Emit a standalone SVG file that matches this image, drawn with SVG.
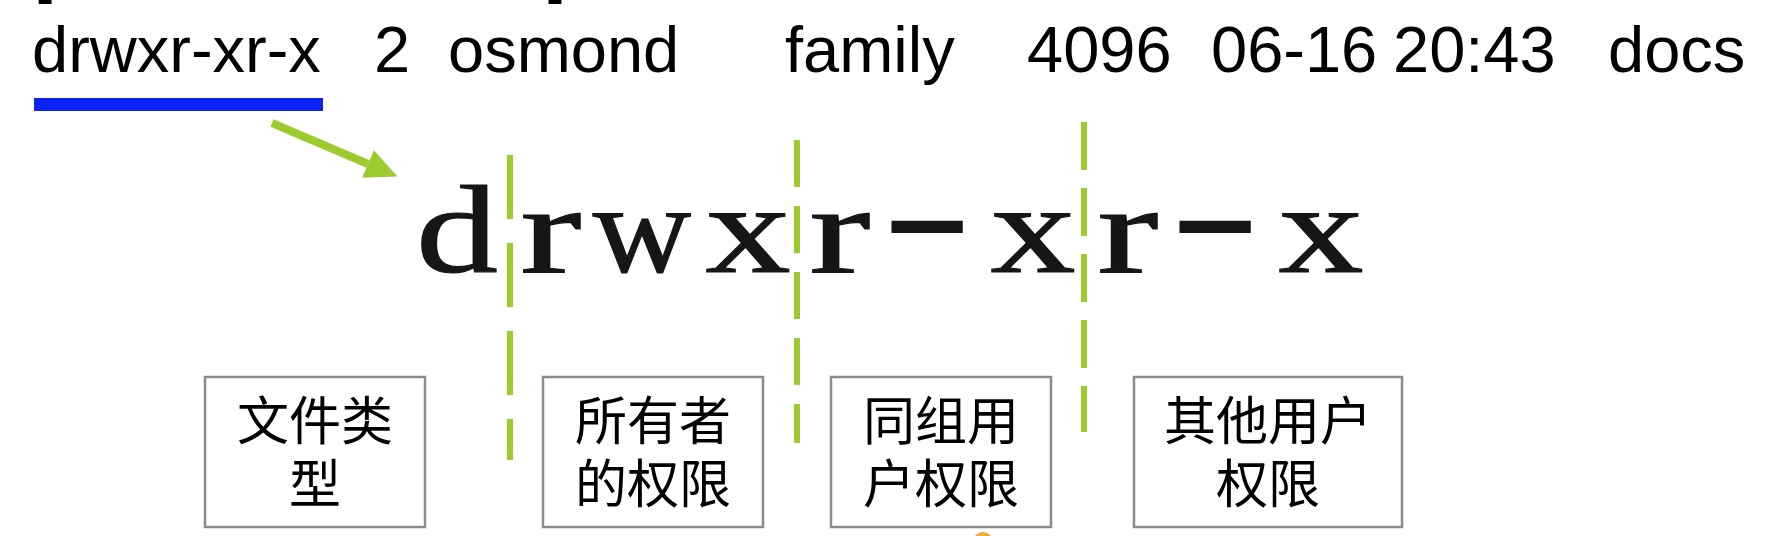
<svg xmlns="http://www.w3.org/2000/svg" width="1786" height="536" viewBox="0 0 1786 536">
<style>
.top{font-family:"Liberation Sans",Arial,sans-serif;font-size:65px;fill:#000}
.big{font-family:"Liberation Serif","Times New Roman",serif;font-size:126px;fill:#161616;stroke:#161616;stroke-width:1.2;text-anchor:middle}
.box{fill:#fff;stroke:#8a8a8a;stroke-width:2.5}
.lbl{font-family:"Liberation Sans","Noto Sans CJK SC",sans-serif;font-size:52px;fill:#000;text-anchor:middle}
.sep{stroke:#9bcb2d;stroke-width:6;fill:none}
.arr{stroke:#9bcb2d;stroke-width:8;fill:none}
</style>
<defs>
<marker id="ah" markerUnits="userSpaceOnUse" markerWidth="34" markerHeight="32" refX="0" refY="16" orient="auto" viewBox="0 0 34 32">
<path d="M0,1 L32,16 L0,31 z" fill="#9bcb2d"/>
</marker>
</defs>
<rect width="1786" height="536" fill="#fff"/>

<g id="prompt-line">
<text class="top" x="34" y="-9">[</text>
<text class="top" x="284" y="-9">@</text>
<text class="top" x="548" y="-9">]</text>
</g>

<g id="ls-line">
<text class="top" y="72"><tspan x="32">drwxr-xr-x</tspan><tspan x="374">2</tspan><tspan x="448">osmond</tspan><tspan x="785">family</tspan><tspan x="1027">4096</tspan><tspan x="1211">06-16</tspan><tspan x="1393">20:43</tspan><tspan x="1608">docs</tspan></text>
<rect x="34" y="98" width="289" height="13" fill="#0b22f2"/>
</g>

<g id="perm-string">
<text class="big" transform="translate(457,272) scale(1.3,1)">d</text>
<text class="big" transform="translate(551,272) scale(1.46,1)">r</text>
<text class="big" transform="translate(642,272) scale(1.08,1)">w</text>
<text class="big" transform="translate(748,272) scale(1.35,1)">x</text>
<text class="big" transform="translate(840,272) scale(1.46,1)">r</text>
<text class="big" transform="translate(927,261) scale(2.1,1.15)">-</text>
<text class="big" transform="translate(1033,272) scale(1.35,1)">x</text>
<text class="big" transform="translate(1128,272) scale(1.46,1)">r</text>
<text class="big" transform="translate(1215,261) scale(2.1,1.15)">-</text>
<text class="big" transform="translate(1321,272) scale(1.35,1)">x</text>
</g>

<g id="separators">
<line class="sep" x1="510" y1="155" x2="510" y2="460" stroke-dasharray="64 24"/>
<line class="sep" x1="797" y1="140" x2="797" y2="443" stroke-dasharray="47 19"/>
<line class="sep" x1="1084" y1="122" x2="1084" y2="432" stroke-dasharray="48 18"/>
</g>

<g id="box-type">
<rect class="box" x="205" y="377" width="220" height="150"/>
<text class="lbl" x="315" y="440">文件类</text>
<text class="lbl" x="315" y="503">型</text>
</g>
<g id="box-owner">
<rect class="box" x="543" y="377" width="220" height="150"/>
<text class="lbl" x="653" y="440">所有者</text>
<text class="lbl" x="653" y="503">的权限</text>
</g>
<g id="box-group">
<rect class="box" x="831" y="377" width="220" height="150"/>
<text class="lbl" x="941" y="440">同组用</text>
<text class="lbl" x="941" y="503">户权限</text>
</g>
<g id="box-other">
<rect class="box" x="1134" y="377" width="268" height="150"/>
<text class="lbl" x="1268" y="440">其他用户</text>
<text class="lbl" x="1268" y="503">权限</text>
</g>

<g id="connectors">
<line class="arr" x1="272" y1="123" x2="368" y2="164" marker-end="url(#ah)"/>
</g>

<circle cx="983" cy="542" r="10" fill="#f4a640"/>
</svg>
